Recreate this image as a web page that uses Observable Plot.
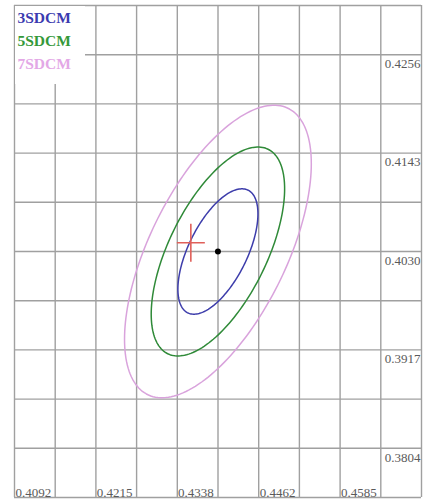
<!DOCTYPE html>
<html>
<head>
<meta charset="utf-8">
<script src="https://cdn.jsdelivr.net/npm/d3@7"></script>
<script src="https://cdn.jsdelivr.net/npm/@observablehq/plot@0.6"></script>
<style>
  html, body { margin: 0; padding: 0; background: #fff; }
  svg { display: block; }
</style>
</head>
<body>
<div id="chart"></div>
<script>
// ---- data ----
const xTicks = [0.4092, 0.4215, 0.4338, 0.4462, 0.4585];
const yTicks = [0.3804, 0.3917, 0.4030, 0.4143, 0.4256];
const levels = ["3SDCM", "5SDCM", "7SDCM"];
const multipliers = [3, 5, 7];
const levelColors = ["#3d3dab", "#2f8a38", "#d9a3dc"];
const legendColors = ["#3b3bb0", "#35993a", "#e3a8e6"];
const centerX = 0.4400;
const centerY = 0.4030;
const sigmaX = 0.00202;
const sigmaY = 0.00240;
const rho = 0.6;
const markerX = [0.4359];
const markerY = [0.4040];

// ---- derived (grid & ellipse outlines) ----
const xStep = (xTicks[4] - xTicks[0]) / 8;
const yStep = (yTicks[4] - yTicks[0]) / 8;
const xDomain = [xTicks[0], xTicks[0] + 10 * xStep];
const yDomain = [yTicks[0] - yStep, yTicks[4] + yStep];
const xGrid = d3.range(11).map(i => xDomain[0] + i * xStep);
const yGrid = d3.range(11).map(i => yDomain[0] + i * yStep);

const ellipsePts = [];
levels.forEach((name, li) => {
  const k = multipliers[li];
  for (let i = 0; i < 180; i++) {
    const t = (i / 180) * 2 * Math.PI;
    ellipsePts.push({
      level: name,
      x: centerX + k * sigmaX * Math.cos(t),
      y: centerY + k * sigmaY * (rho * Math.cos(t) + Math.sqrt(1 - rho * rho) * Math.sin(t))
    });
  }
});

const crossSymbol = {
  draw(ctx) {
    ctx.moveTo(-14, 0); ctx.lineTo(14, 0);
    ctx.moveTo(0, -19); ctx.lineTo(0, 19);
  }
};

const legendBox = (index, scales, values, dims) => {
  return d3.create("svg:rect")
    .attr("x", dims.marginLeft + 1)
    .attr("y", dims.marginTop + 1)
    .attr("width", 70)
    .attr("height", 78)
    .attr("fill", "#fff")
    .node();
};

const legendMarks = levels.map((name, i) =>
  Plot.text([name], {
    frameAnchor: "top-left", text: d => d, dx: 3, dy: 6 + i * 23,
    fill: legendColors[i], fontSize: 15.5, fontWeight: "bold", lineAnchor: "top"
  })
);

const chart = Plot.plot({
  width: 428,
  height: 504,
  marginLeft: 14,
  marginRight: 7,
  marginTop: 5,
  marginBottom: 7,
  style: { background: "#fff", fontFamily: "'Liberation Serif', serif" },
  x: { domain: xDomain, axis: null },
  y: { domain: yDomain, axis: null },
  color: { domain: levels, range: levelColors },
  marks: [
    Plot.ruleX(xGrid, { stroke: "#a0a0a0", strokeWidth: 1.4 }),
    Plot.ruleY(yGrid, { stroke: "#a0a0a0", strokeWidth: 1.4 }),
    legendBox,
    Plot.line(ellipsePts, { x: "x", y: "y", z: "level", stroke: "level", curve: "linear-closed", strokeWidth: 1.5 }),
    Plot.dot(markerX.map((d, i) => ({ x: d, y: markerY[i] })), { x: "x", y: "y", symbol: crossSymbol, stroke: "#e0605a", strokeWidth: 1.6, r: 5 }),
    Plot.dot([{ x: centerX, y: centerY }], { x: "x", y: "y", r: 3, fill: "#000" }),
    Plot.text(xTicks, { x: d => d, frameAnchor: "bottom", textAnchor: "start", lineAnchor: "bottom", dx: 1, dy: -1, text: d => d.toFixed(4), fill: "#5a5a5a", fontSize: 13 }),
    Plot.text(yTicks, { y: d => d, frameAnchor: "right", textAnchor: "end", lineAnchor: "top", dx: -1, dy: 4, text: d => d.toFixed(4), fill: "#5a5a5a", fontSize: 13 }),
    ...legendMarks
  ]
});

document.getElementById("chart").appendChild(chart);
</script>
</body>
</html>
